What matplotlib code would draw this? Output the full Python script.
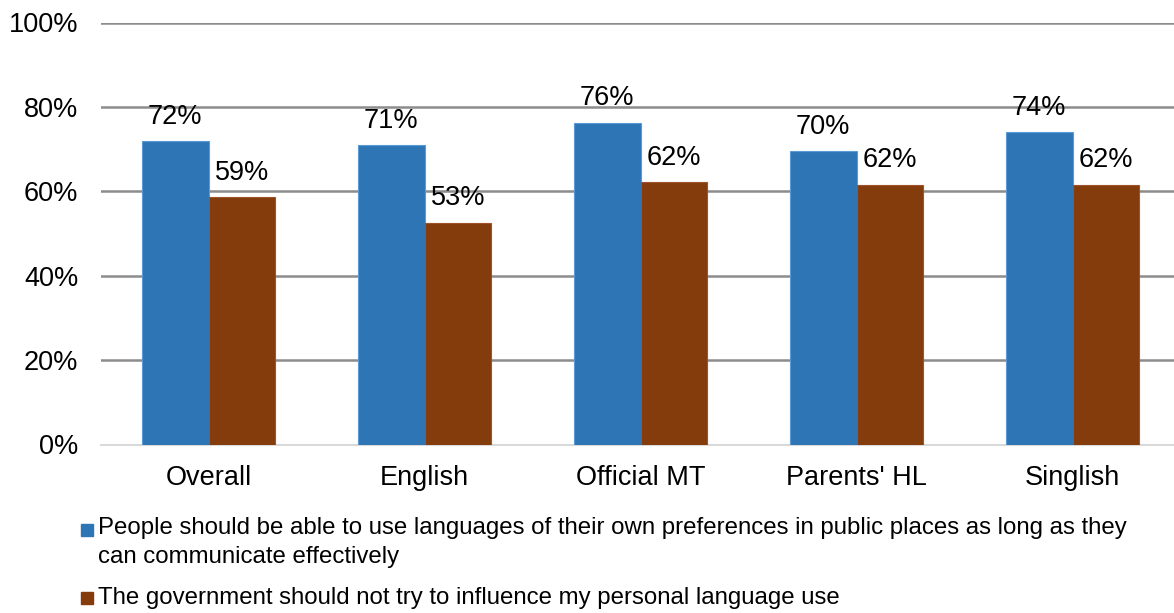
import matplotlib
matplotlib.use("Agg")
import matplotlib.pyplot as plt
from matplotlib.patches import Rectangle
import numpy as np

categories = ["Overall", "English", "Official MT", "Parents' HL", "Singlish"]
public_pref = [71.9, 70.9, 76.3, 69.6, 74.1]
no_gov_influence = [58.6, 52.6, 62.2, 61.6, 61.6]
series_names = [
    "People should be able to use languages of their own preferences in public places as long as they\ncan communicate effectively",
    "The government should not try to influence my personal language use",
]
yticks = [0, 20, 40, 60, 80, 100]
ytick_labels = ["0%", "20%", "40%", "60%", "80%", "100%"]

BLUE = "#2E75B6"
BROWN = "#843C0C"

plt.rcParams["font.family"] = ["Liberation Sans", "DejaVu Sans"]

W, H = 1174, 613
fig = plt.figure(figsize=(W / 100, H / 100), dpi=100)
ax = fig.add_axes([100.5 / W, 1 - 444.5 / H, 1080 / W, (444.5 - 22.5) / H])

FS = 19.5
x = np.arange(len(categories))
bw = 0.31
b1 = ax.bar(x - bw / 2, public_pref, bw, color=BLUE, edgecolor="#5B9BD5", linewidth=0.8, zorder=3)
b2 = ax.bar(x + bw / 2, no_gov_influence, bw, color=BROWN, edgecolor="#A0522D", linewidth=0.8, zorder=3)

for bars, vals in ((b1, public_pref), (b2, no_gov_influence)):
    for rect, v in zip(bars, vals):
        ax.annotate(f"{round(v):d}%", (rect.get_x() + rect.get_width() / 2, v),
                    xytext=(0, 8), textcoords="offset points", ha="center", va="bottom",
                    fontsize=FS, color="black")

ax.set_xlim(-0.5, len(categories) - 0.5)
ax.set_ylim(0, 100)
ax.set_yticks(yticks)
ax.set_yticklabels(ytick_labels, fontsize=FS)
ax.set_xticks(x)
ax.set_xticklabels(categories, fontsize=FS)
ax.tick_params(axis="y", length=0, pad=16)
ax.tick_params(axis="x", length=0, pad=15)
for s in ["top", "right", "left"]:
    ax.spines[s].set_visible(False)
ax.spines["bottom"].set_color("#D9D9D9")
ax.spines["bottom"].set_linewidth(1.5)
for t in yticks[1:]:
    ax.axhline(t, color="#8C8C8C", linewidth=1.8, zorder=1)

# legend (manual, stacked)
LFS = 17.3
fig.patches.append(Rectangle((81 / W, 1 - 536 / H), 12 / W, 12 / H,
                             transform=fig.transFigure, color=BLUE, figure=fig))
fig.text(98 / W, 1 - 517 / H, series_names[0], ha="left", va="top",
         fontsize=LFS, linespacing=1.4, color="black")
fig.patches.append(Rectangle((81 / W, 1 - 604 / H), 12 / W, 12 / H,
                             transform=fig.transFigure, color=BROWN, figure=fig))
fig.text(98 / W, 1 - 598 / H, series_names[1], ha="left", va="center",
         fontsize=LFS, color="black")

fig.savefig("out.png", dpi=100)
